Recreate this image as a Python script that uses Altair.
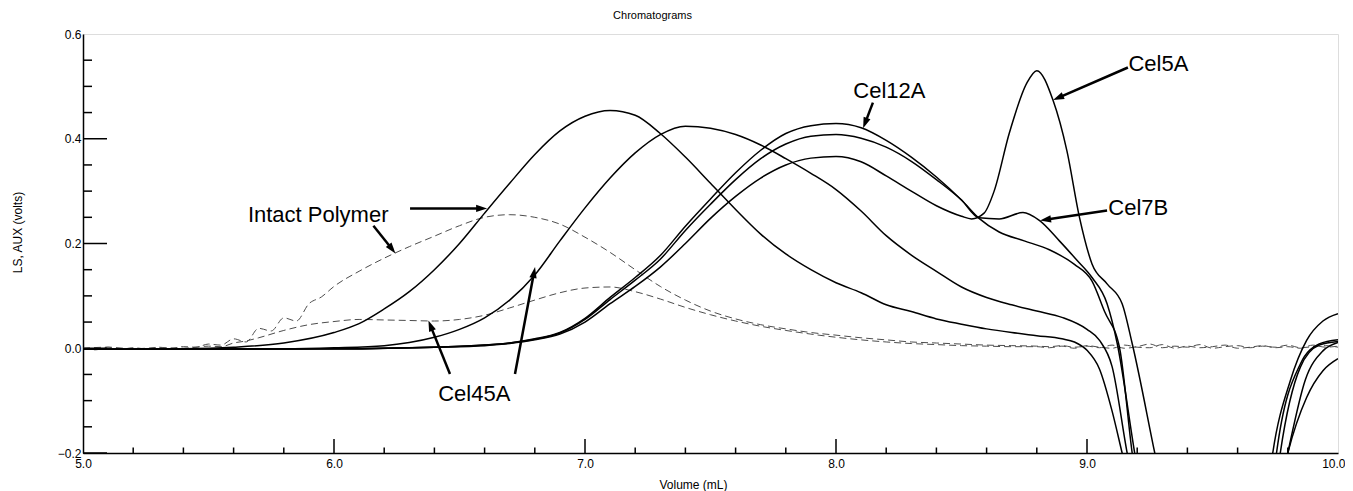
import math
import altair as alt
import pandas as pd

# ---------------- data ----------------
# solid traces (volume mL, LS AUX volts)
cel45a_1_x = [5.0,5.4,5.6,5.8,6.0,6.1,6.2,6.3,6.4,6.5,6.6,6.7,6.8,6.9,7.0,7.1,7.2,7.3,7.4,7.5,7.6,7.7,7.8,7.9,8.0,8.1,8.2,8.3,8.4,8.5,8.6,8.7,8.8,8.9,8.95,9.0,9.05,9.1,9.14,9.2,9.5,9.7,9.8,9.875,9.94,10.0]
cel45a_1_y = [-0.002,-0.001,0.002,0.010,0.030,0.047,0.075,0.108,0.150,0.200,0.258,0.315,0.370,0.415,0.443,0.454,0.445,0.410,0.365,0.315,0.265,0.218,0.180,0.150,0.125,0.106,0.083,0.070,0.056,0.046,0.037,0.030,0.024,0.018,0.012,-0.004,-0.04,-0.12,-0.2,-0.32,-0.9,-0.45,-0.2,-0.094,-0.043,-0.02]

cel45a_2_x = [5.0,5.8,6.0,6.2,6.3,6.4,6.5,6.6,6.7,6.8,6.9,7.0,7.1,7.2,7.3,7.4,7.5,7.6,7.7,7.8,7.9,8.0,8.1,8.2,8.3,8.4,8.5,8.6,8.7,8.8,8.9,9.0,9.05,9.1,9.16,9.25,9.5,9.7,9.77,9.85,9.925,10.0]
cel45a_2_y = [-0.002,-0.001,0.001,0.005,0.011,0.021,0.036,0.058,0.092,0.140,0.205,0.268,0.325,0.373,0.408,0.424,0.420,0.408,0.388,0.362,0.334,0.303,0.262,0.215,0.178,0.147,0.117,0.097,0.083,0.071,0.059,0.036,0.015,-0.035,-0.2,-0.4,-0.9,-0.5,-0.2,-0.036,0.006,0.013]

cel12a_x = [5.0,6.0,6.4,6.6,6.7,6.8,6.9,7.0,7.1,7.2,7.3,7.4,7.5,7.6,7.7,7.8,7.9,8.0,8.1,8.2,8.3,8.4,8.5,8.57,8.65,8.75,8.85,8.95,9.02,9.07,9.13,9.18,9.3,9.5,9.7,9.755,9.85,9.925,10.0]
cel12a_y = [-0.002,-0.001,0.002,0.006,0.010,0.018,0.030,0.057,0.097,0.135,0.177,0.233,0.285,0.335,0.378,0.410,0.425,0.429,0.421,0.397,0.365,0.327,0.283,0.248,0.222,0.205,0.188,0.160,0.128,0.070,0.0,-0.2,-0.5,-0.9,-0.45,-0.2,-0.03,0.008,0.016]

cel7b_x = [5.0,6.0,6.4,6.6,6.7,6.8,6.9,7.0,7.1,7.2,7.3,7.4,7.5,7.6,7.7,7.8,7.9,8.0,8.1,8.2,8.3,8.4,8.5,8.57,8.65,8.745,8.81,8.89,8.96,9.02,9.08,9.12,9.19,9.3,9.5,9.7,9.8,9.87,9.94,10.0]
cel7b_y = [-0.002,-0.001,0.002,0.006,0.010,0.017,0.029,0.055,0.093,0.130,0.170,0.225,0.275,0.322,0.362,0.390,0.405,0.408,0.401,0.384,0.357,0.322,0.283,0.249,0.247,0.259,0.244,0.205,0.168,0.135,0.085,0.010,-0.2,-0.5,-0.9,-0.45,-0.2,-0.06,-0.005,0.011]

cel5a_x = [5.0,6.0,6.4,6.6,6.7,6.8,6.9,7.0,7.1,7.2,7.3,7.4,7.5,7.6,7.7,7.8,7.9,8.0,8.1,8.2,8.3,8.4,8.5,8.54,8.59,8.63,8.69,8.76,8.80,8.865,8.92,8.97,9.02,9.08,9.14,9.18,9.27,9.4,9.55,9.68,9.74,9.81,9.875,9.94,10.0]
cel5a_y = [-0.002,-0.001,0.002,0.005,0.009,0.016,0.027,0.050,0.085,0.118,0.155,0.200,0.248,0.290,0.325,0.350,0.363,0.366,0.356,0.329,0.300,0.272,0.252,0.247,0.258,0.300,0.410,0.506,0.530,0.473,0.377,0.250,0.161,0.123,0.085,0.009,-0.2,-0.5,-0.9,-0.45,-0.2,-0.062,0.015,0.052,0.066]

# dashed traces
tail_x = [8.8,8.85,8.9,8.95,9.0,9.05,9.1,9.15,9.2,9.25,9.3,9.35,9.4,9.45,9.5,9.55,9.6,9.65,9.7,9.75,9.8,9.85,9.9,9.95,10.0]

intact_x = [5.0,5.05,5.1,5.15,5.2,5.25,5.3,5.35,5.4,5.45,5.5,5.55,5.6,5.65,5.7,5.75,5.8,5.85,5.9,5.95,6.0,6.1,6.2,6.3,6.4,6.5,6.6,6.7,6.8,6.9,7.0,7.1,7.2,7.3,7.4,7.5,7.6,7.7,7.8,7.9,8.0,8.1,8.2,8.3,8.4,8.5,8.6,8.7]
intact_y = [0.0,-0.003,0.002,-0.002,0.001,-0.001,0.002,0.0,0.003,0.002,0.008,0.006,0.018,0.012,0.038,0.033,0.058,0.052,0.085,0.098,0.118,0.147,0.172,0.194,0.214,0.234,0.250,0.255,0.250,0.237,0.212,0.183,0.150,0.118,0.092,0.071,0.056,0.045,0.037,0.030,0.025,0.020,0.016,0.012,0.010,0.008,0.006,0.005]
intact_tail_y = [0.004,0.003,0.005,0.002,0.004,0.001,0.006,0.0,0.003,0.008,0.001,0.004,0.002,0.007,0.0,0.003,0.005,0.001,0.004,0.002,0.006,0.001,0.003,0.005,0.002]

digest_x = [5.0,5.1,5.2,5.3,5.4,5.5,5.55,5.6,5.65,5.7,5.8,5.9,6.0,6.1,6.2,6.3,6.4,6.5,6.6,6.7,6.8,6.9,7.0,7.1,7.2,7.3,7.4,7.5,7.6,7.7,7.8,7.9,8.0,8.1,8.2,8.3,8.4,8.5,8.6,8.7]
digest_y = [0.0,0.002,-0.001,0.001,0.0,0.004,0.003,0.010,0.014,0.020,0.034,0.045,0.051,0.055,0.054,0.053,0.052,0.055,0.063,0.077,0.092,0.106,0.115,0.117,0.108,0.094,0.078,0.064,0.052,0.042,0.034,0.027,0.021,0.016,0.012,0.009,0.007,0.005,0.004,0.003]
digest_tail_y = [0.003,0.001,0.004,0.0,0.005,0.002,0.0,0.006,0.002,0.001,0.007,0.0,0.004,0.001,0.003,0.006,0.0,0.002,0.005,0.001,0.003,0.0,0.006,0.002,0.004]

# annotations
label_text = ["Intact Polymer", "Cel45A", "Cel12A", "Cel5A", "Cel7B"]
label_x = [5.657, 6.415, 8.069, 9.165, 9.085]
label_y = [0.241, -0.101, 0.478, 0.529, 0.254]

arrow_x0 = [6.303, 6.157, 6.462, 6.721, 8.147, 9.163, 9.080]
arrow_y0 = [0.267, 0.234, -0.049, -0.049, 0.469, 0.536, 0.263]
arrow_x1 = [6.610, 6.245, 6.376, 6.801, 8.108, 8.865, 8.813]
arrow_y1 = [0.267, 0.181, 0.053, 0.155, 0.420, 0.474, 0.244]

# axes
x_labels = [5.0, 6.0, 7.0, 8.0, 9.0, 10.0]
y_labels = [-0.2, 0.0, 0.2, 0.4, 0.6]
x_major_ticks = [6.0, 7.0, 8.0, 9.0]
x_minor_ticks = [5.2,5.4,5.6,5.8,6.2,6.4,6.6,6.8,7.2,7.4,7.6,7.8,8.2,8.4,8.6,8.8,9.2,9.4,9.6,9.8]
y_major_ticks = [-0.2, 0.0, 0.2, 0.4]
y_minor_ticks = [-0.15,-0.1,-0.05,0.05,0.1,0.15,0.25,0.3,0.35,0.45,0.5,0.55]

# ---------------- layout constants ----------------
W, H = 1255, 419
X0, X1 = 5.0, 10.0
Y0, Y1 = -0.2, 0.6
SX = W / (X1 - X0)
SY = H / (Y1 - Y0)
FONT = "Liberation Sans"

# ---------------- tables ----------------
rows = []
for name, xs, ys in [("Cel45A a", cel45a_1_x, cel45a_1_y),
                     ("Cel45A b", cel45a_2_x, cel45a_2_y),
                     ("Cel12A", cel12a_x, cel12a_y),
                     ("Cel7B", cel7b_x, cel7b_y),
                     ("Cel5A", cel5a_x, cel5a_y)]:
    rows += [{"series": name, "x": a, "y": b} for a, b in zip(xs, ys)]
solid = pd.DataFrame(rows)

rows = []
for name, xs, ys in [("Intact", intact_x + tail_x, intact_y + intact_tail_y),
                     ("Digest", digest_x + tail_x, digest_y + digest_tail_y)]:
    rows += [{"series": name, "x": a, "y": b} for a, b in zip(xs, ys)]
dashed = pd.DataFrame(rows)

labels = pd.DataFrame({"text": label_text, "x": label_x, "y": label_y})

arr = []
head_len = 11.0
for a0, b0, a1, b1 in zip(arrow_x0, arrow_y0, arrow_x1, arrow_y1):
    dxp = (a1 - a0) * SX
    dyp = (b1 - b0) * SY
    L = math.hypot(dxp, dyp)
    ux, uy = dxp / L, dyp / L
    ang = math.degrees(math.atan2(dxp, dyp)) % 360
    arr.append({"x0": a0, "y0": b0, "x1": a1, "y1": b1,
                "xs": a1 - ux * (head_len * 0.6) / SX,
                "ys": b1 - uy * (head_len * 0.6) / SY,
                "ang": ang})
arrows = pd.DataFrame(arr)

tk = []
for v in x_major_ticks:
    tk.append({"x": v, "x2": v, "y": Y0, "y2": Y0 + 14 / SY})
for v in x_minor_ticks:
    tk.append({"x": v, "x2": v, "y": Y0, "y2": Y0 + 5.5 / SY})
for v in y_major_ticks:
    tk.append({"x": X0, "x2": X0 + 24 / SX, "y": v, "y2": v})
for v in y_minor_ticks:
    tk.append({"x": X0, "x2": X0 + 9 / SX, "y": v, "y2": v})
ticks = pd.DataFrame(tk)

# ---------------- encodings ----------------
xscale = alt.Scale(domain=[X0, X1], nice=False, zero=False)
yscale = alt.Scale(domain=[Y0, Y1], nice=False, zero=False)
xaxis = alt.Axis(values=x_labels, format=".1f", ticks=False, grid=False,
                 domainColor="black", domainWidth=1.5, labelFont=FONT,
                 labelFontSize=12, labelColor="black", labelPadding=5,
                 labelFlush=False, labelOverlap=False,
                 labelAlign={"expr": "datum.value >= 10 ? 'right' : 'center'"},
                 labelOffset={"expr": "datum.value >= 10 ? 7 : 0"},
                 title="Volume (mL)", titleFont=FONT, titleFontSize=12,
                 titleFontWeight="normal", titleColor="black",
                 titleX=610, titleY=31, titleAlign="center", titleBaseline="middle")
yaxis = alt.Axis(values=y_labels, format=".1f", ticks=False, grid=False,
                 domainColor="black", domainWidth=1.5, labelFont=FONT,
                 labelFontSize=12, labelColor="black", labelPadding=2,
                 labelFlush=False, labelOverlap=False,
                 title="LS, AUX (volts)", titleFont=FONT, titleFontSize=12,
                 titleFontWeight="normal", titleColor="black",
                 titleX=-66, titleY=198, titleAngle=270,
                 titleAlign="center", titleBaseline="middle")

X = alt.X("x:Q", scale=xscale, axis=xaxis)
Y = alt.Y("y:Q", scale=yscale, axis=yaxis)

solid_layer = alt.Chart(solid).mark_line(
    color="black", strokeWidth=1.5, interpolate="monotone", clip=True
).encode(x=X, y=Y, detail="series:N", order="x:Q")

dashed_layer = alt.Chart(dashed).mark_line(
    color="#4d4d4d", strokeWidth=1, strokeDash=[7, 4], interpolate="monotone", clip=True
).encode(x=X, y=Y, detail="series:N", order="x:Q")

tick_layer = alt.Chart(ticks).mark_rule(color="black", strokeWidth=1.5).encode(
    x=X, y=Y, x2="x2:Q", y2="y2:Q")

text_layer = alt.Chart(labels).mark_text(
    font=FONT, fontSize=22, align="left", baseline="alphabetic", color="black"
).encode(x=X, y=Y, text="text:N")

arrow_lines = alt.Chart(arrows).mark_rule(color="black", strokeWidth=2.5).encode(
    x=alt.X("x0:Q", scale=xscale, axis=xaxis),
    y=alt.Y("y0:Q", scale=yscale, axis=yaxis),
    x2="xs:Q", y2="ys:Q")

arrow_heads = alt.Chart(arrows).mark_point(
    shape="M0,0L0.33,1L-0.33,1Z", filled=True, size=(2 * head_len) ** 2,
    color="black", opacity=1, strokeWidth=0
).encode(
    x=alt.X("x1:Q", scale=xscale, axis=xaxis),
    y=alt.Y("y1:Q", scale=yscale, axis=yaxis),
    angle=alt.Angle("ang:Q", scale=None))

chart = alt.layer(
    dashed_layer, solid_layer, tick_layer, arrow_lines, arrow_heads, text_layer
).properties(
    width=W, height=H,
    autosize=alt.AutoSizeParams(type="none"),
    padding={"left": 75, "top": 26, "right": 7, "bottom": 38},
    title=alt.TitleParams("Chromatograms", font=FONT, fontSize=11,
                          fontWeight="normal", anchor="middle", dx=-58,
                          offset=7, color="black"),
).configure_view(stroke="black", strokeWidth=1.5).configure(background="white")

chart.save("out.html", embed_options={"renderer": "svg", "actions": False})
